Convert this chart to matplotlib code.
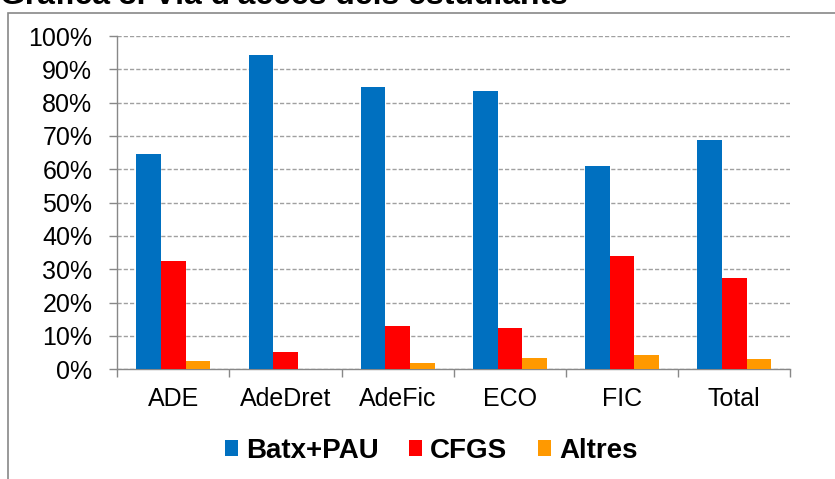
import matplotlib
matplotlib.use("Agg")
import matplotlib.pyplot as plt
import numpy as np
from matplotlib.patches import Rectangle
from matplotlib.ticker import PercentFormatter, MultipleLocator

plt.rcParams['font.family'] = ['Liberation Sans', 'DejaVu Sans']

categories = ["ADE", "AdeDret", "AdeFic", "ECO", "FIC", "Total"]
series_names = ["Batx+PAU", "CFGS", "Altres"]
batx_pau = [64.6, 94.2, 84.7, 83.4, 61.1, 68.9]
cfgs = [32.5, 5.2, 13.0, 12.3, 34.1, 27.4]
altres = [2.5, 0.0, 1.9, 3.5, 4.2, 3.2]
colors = ["#0070C0", "#FF0000", "#FF9900"]
title = "Gràfica 3. Via d'accés dels estudiants"

W, H = 835, 479
fig = plt.figure(figsize=(W / 100, H / 100), dpi=100)
ax = fig.add_axes([117.3 / W, 1 - 369.3 / H, (790.3 - 117.3) / W, (369.3 - 36) / H])

x = np.arange(len(categories))
bw = 0.22
for i, (vals, name, c) in enumerate(zip([batx_pau, cfgs, altres], series_names, colors)):
    ax.bar(x + (i - 1) * bw, vals, width=bw, color=c, label=name, zorder=3)

ax.set_xlim(-0.5, len(categories) - 0.5)
ax.set_ylim(0, 100)
ax.yaxis.set_major_locator(MultipleLocator(10))
ax.yaxis.set_major_formatter(PercentFormatter(100, decimals=0))
ax.grid(axis='y', color='#a0a0a0', linestyle=(0, (3, 1.5)), linewidth=1, zorder=0)

ax.set_xticks(x)
ax.set_xticklabels(categories)
ax.set_xticks(np.arange(len(categories) + 1) - 0.5, minor=True)
ax.tick_params(axis='x', which='major', length=0, pad=13, labelsize=18)
ax.tick_params(axis='x', which='minor', length=6, width=1, color='#888888')
ax.tick_params(axis='y', length=6, width=1, color='#888888', pad=12, labelsize=18)

for s in ['top', 'right']:
    ax.spines[s].set_visible(False)
for s in ['left', 'bottom']:
    ax.spines[s].set_color('#888888')
    ax.spines[s].set_linewidth(1)

leg = fig.legend(loc='center', bbox_to_anchor=(431 / W, 1 - 451 / H), ncol=3, frameon=False,
                 prop={'weight': 'bold', 'size': 20}, handlelength=0.47, handleheight=0.47,
                 handletextpad=0.29, columnspacing=1.1)

fig.add_artist(Rectangle((8 / W, -0.1), 1.2, 1.1 - 13 / H, transform=fig.transFigure,
                         fill=False, edgecolor='#888888', linewidth=1.2))

fig.text(0, 1 - 4.5 / H, title, fontsize=23, fontweight='bold', ha='left', va='baseline')

fig.savefig("out.png", dpi=100)
